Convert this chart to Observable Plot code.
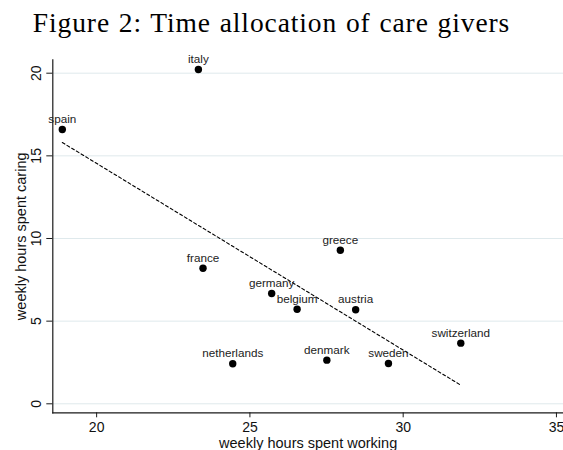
<!DOCTYPE html>
<html>
<head>
<meta charset="utf-8">
<script src="https://cdn.jsdelivr.net/npm/d3@7"></script>
<script src="https://cdn.jsdelivr.net/npm/@observablehq/plot@0.6"></script>
<style>
  html, body { margin: 0; padding: 0; background: white; overflow: hidden; }
  #title {
    width: 543px; height: 46px; line-height: 45px; text-align: center;
    font-family: "Liberation Serif", "Times New Roman", serif;
    font-size: 27.5px; letter-spacing: 0.9px; word-spacing: 1px; color: #000; white-space: nowrap;
  }
</style>
</head>
<body>
<div id="title">Figure 2: Time allocation of care givers</div>
<div id="chart"></div>
<script>
const countries = ["italy","spain","france","greece","germany","belgium","austria","netherlands","denmark","sweden","switzerland"];
const hoursWorking = [23.32,18.88,23.47,27.95,25.71,26.54,28.45,24.44,27.51,29.52,31.88];
const hoursCaring = [20.22,16.59,8.20,9.29,6.67,5.72,5.69,2.42,2.64,2.44,3.67];
const xTicks = [20, 25, 30, 35];
const yTicks = [0, 5, 10, 15, 20];
const xLabel = "weekly hours spent working";
const yLabel = "weekly hours spent caring";

const data = countries.map((c, i) => ({country: c, work: hoursWorking[i], care: hoursCaring[i]}));

const sans = "'Liberation Sans', Arial, Helvetica, sans-serif";
const chart = Plot.plot({
  width: 563,
  height: 404,
  marginLeft: 52.3,
  marginRight: 0,
  marginTop: 13.3,
  marginBottom: 37.7,
  style: {fontFamily: sans, background: "white", color: "#111", overflow: "visible"},
  x: {domain: [18.57, 35.23]},
  y: {domain: [-0.544, 20.81]},
  marks: [
    Plot.gridY(yTicks, {stroke: "#dfe9ec", strokeOpacity: 1, strokeWidth: 1}),
    Plot.frame({anchor: "bottom", stroke: "#1a1a1a", strokeWidth: 1.2}),
    Plot.frame({anchor: "left", stroke: "#1a1a1a", strokeWidth: 1.2}),
    Plot.axisX({ticks: xTicks, tickSize: 5, tickPadding: 4, fontSize: 14, label: null, stroke: "#1a1a1a", fill: "#111"}),
    Plot.axisY({ticks: yTicks, tickSize: 6, tickFormat: () => "", label: null, stroke: "#1a1a1a"}),
    Plot.text(yTicks, {y: d => d, text: d => String(d), frameAnchor: "left", dx: -16.3, rotate: -90, fontSize: 14, fill: "#111", lineAnchor: "middle", textAnchor: "middle"}),
    Plot.text([xLabel], {text: d => d, frameAnchor: "bottom", dy: 30.7, lineAnchor: "middle", fontSize: 14.5, fill: "#111"}),
    Plot.text([yLabel], {text: d => d, frameAnchor: "left", dx: -31.3, rotate: -90, lineAnchor: "middle", textAnchor: "middle", fontSize: 14.5, fill: "#111"}),
    Plot.linearRegressionY(data, {x: "work", y: "care", ci: 0, stroke: "#000", strokeWidth: 1.1, strokeDasharray: "3,2.5"}),
    Plot.dot(data, {x: "work", y: "care", r: 3.7, fill: "#000", stroke: "none"}),
    Plot.text(data, {x: "work", y: "care", text: "country", dy: -6.5, lineAnchor: "bottom", fontSize: 11.7, fill: "#222"})
  ]
});
document.getElementById("chart").appendChild(chart);
</script>
</body>
</html>
